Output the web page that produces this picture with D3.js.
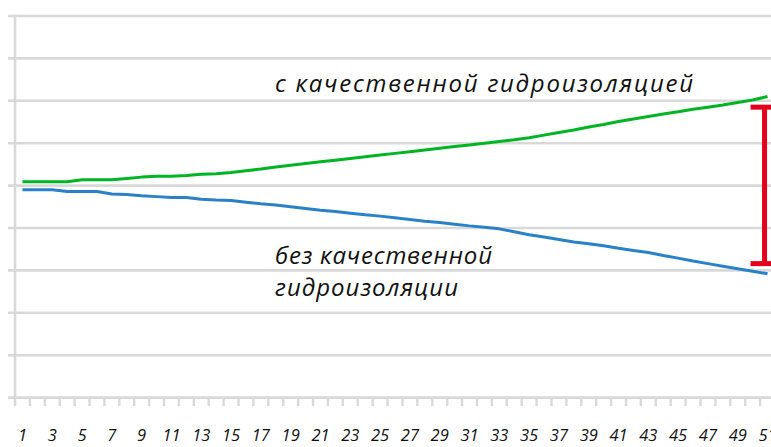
<!DOCTYPE html>
<html>
<head>
<meta charset="utf-8">
<script src="https://cdn.jsdelivr.net/npm/d3@7"></script>
<style>
  html, body { margin: 0; padding: 0; background: #fff; }
  svg { display: block; }
  text { font-family: "Open Sans", "Noto Sans", sans-serif; font-style: italic; fill: #111; }
</style>
</head>
<body>
<div id="chart"></div>
<script>
// ---- data ----
const categories = [1,2,3,4,5,6,7,8,9,10,11,12,13,14,15,16,17,18,19,20,21,22,23,24,25,26,27,28,29,30,
  31,32,33,34,35,36,37,38,39,40,41,42,43,44,45,46,47,48,49,50,51];
const withWaterproofing = [50.9,50.9,50.9,50.9,51.4,51.4,51.4,51.7,52.0,52.2,52.2,52.4,52.7,52.8,53.1,53.5,53.9,54.4,
  54.8,55.2,55.6,56.0,56.4,56.8,57.2,57.6,58.0,58.4,58.8,59.2,59.6,60.0,60.4,60.8,61.3,
  61.9,62.5,63.1,63.8,64.4,65.1,65.7,66.3,66.9,67.4,68.0,68.5,69.0,69.6,70.2,71.0];
const withoutWaterproofing = [49.0,49.0,49.0,48.6,48.6,48.6,48.0,47.9,47.6,47.4,47.2,47.2,46.8,46.6,46.5,46.1,45.7,45.4,
  45.0,44.6,44.2,43.9,43.5,43.1,42.8,42.4,42.0,41.6,41.3,40.9,40.5,40.2,39.8,39.1,38.4,
  37.9,37.3,36.7,36.3,35.8,35.2,34.7,34.2,33.5,32.9,32.2,31.6,31.0,30.4,29.8,29.2];
const tickLabels = [1,3,5,7,9,11,13,15,17,19,21,23,25,27,29,31,33,35,37,39,41,43,45,47,49,51];
const gridValues = [0,10,20,30,40,50,60,70,80,90];
const labelWith = "с качественной гидроизоляцией";
const labelWithout = ["без качественной", "гидроизоляции"];
const gapRange = [68.5, 31.6];

// ---- layout ----
const W = 771, H = 447;
const svg = d3.select("#chart").append("svg").attr("width", W).attr("height", H);

const x = d3.scaleBand().domain(categories).range([15, 775]).padding(0);
const y = d3.scaleLinear().domain([0, 90]).range([397.6, 16]);
const grid = "#d9d9d9";

// horizontal gridlines + y ticks
svg.append("g").selectAll("line").data(gridValues).join("line")
  .attr("x1", 8).attr("x2", W + 5)
  .attr("y1", d => y(d)).attr("y2", d => y(d))
  .attr("stroke", grid).attr("stroke-width", 2.6);

// vertical axis line
svg.append("line").attr("x1", 15).attr("x2", 15).attr("y1", y(90) - 1.3).attr("y2", 406)
  .attr("stroke", grid).attr("stroke-width", 2.6);

// x ticks at band boundaries
const boundaries = categories.map(c => x(c)).concat([x(categories[categories.length-1]) + x.bandwidth()]).slice(1);
svg.append("g").selectAll("line").data(boundaries).join("line")
  .attr("x1", d => d).attr("x2", d => d)
  .attr("y1", y(0)).attr("y2", 406)
  .attr("stroke", grid).attr("stroke-width", 2.4);

// x labels
svg.append("g").selectAll("text").data(tickLabels).join("text")
  .attr("x", d => x(d) + x.bandwidth() / 2)
  .attr("y", 441)
  .attr("text-anchor", "middle")
  .attr("font-size", 16.5)
  .text(d => d);

// lines
const line = d3.line()
  .x((d, i) => x(categories[i]) + x.bandwidth() / 2)
  .y(d => y(d));

svg.append("path").datum(withWaterproofing)
  .attr("d", line).attr("fill", "none")
  .attr("stroke", "#00b524").attr("stroke-width", 3).attr("stroke-linejoin", "round");
svg.append("path").datum(withoutWaterproofing)
  .attr("d", line).attr("fill", "none")
  .attr("stroke", "#2b81c7").attr("stroke-width", 3).attr("stroke-linejoin", "round");

// annotations (fit to reference widths via letter-spacing)
function fitText(sel, target) {
  const n = sel.text().length;
  const len = sel.node().getComputedTextLength();
  sel.attr("letter-spacing", Math.max(0, (target - len) / (n - 1)));
}
const t1 = svg.append("text").attr("x", 275).attr("y", 92).attr("font-size", 24).text(labelWith);
fitText(t1, 418);
const t2 = svg.append("text").attr("x", 275).attr("y", 264).attr("font-size", 24).text(labelWithout[0]);
fitText(t2, 217);
const t3 = svg.append("text").attr("x", 275).attr("y", 296).attr("font-size", 24).text(labelWithout[1]);
fitText(t3, 183);

// red bracket
const bx = x(51) + x.bandwidth() / 2 - 3;
const red = "#e3001b";
svg.append("line").attr("x1", bx).attr("x2", bx).attr("y1", y(gapRange[0])).attr("y2", y(gapRange[1]))
  .attr("stroke", red).attr("stroke-width", 5);
svg.append("g").selectAll("line").data(gapRange).join("line")
  .attr("x1", bx - 14).attr("x2", bx + 14)
  .attr("y1", d => y(d)).attr("y2", d => y(d))
  .attr("stroke", red).attr("stroke-width", 5);
</script>
</body>
</html>
